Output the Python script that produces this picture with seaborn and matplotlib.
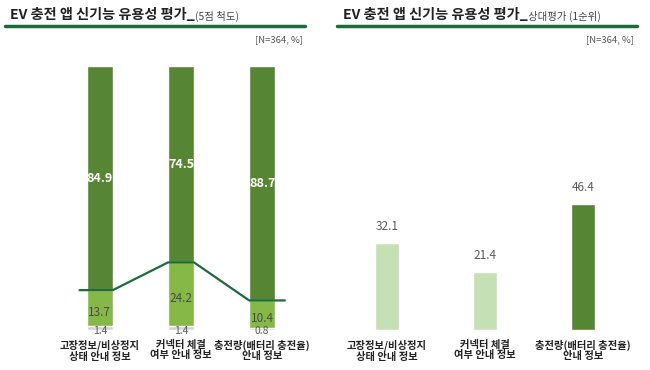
import numpy as np
import pandas as pd
import seaborn as sns
import matplotlib.pyplot as plt
from matplotlib.lines import Line2D

sns.set_theme(style="white")
plt.rcParams['font.family'] = ['Noto Sans CJK KR', 'DejaVu Sans']

# data
items = ['고장정보/비상정지\n상태 안내 정보', '커넥터 체결\n여부 안내 정보', '충전량(배터리 충전율)\n안내 정보']
low = [1.4, 1.4, 0.8]        # 5점 척도 하위
mid = [13.7, 24.2, 10.4]     # 보통
high = [84.9, 74.5, 88.7]    # 상위
rank1 = [32.1, 21.4, 46.4]   # 상대평가 1순위

dark = '#568534'
light = '#86b848'
pale = '#c5e0b4'
grey = '#d4d4d4'
line_c = '#1d6b3b'

df = pd.DataFrame({'item': items, 'low': low, 'mid': mid, 'high': high, 'rank1': rank1})
df['lm'] = df['low'] + df['mid']
df['total'] = df['lm'] + df['high']

fig = plt.figure(figsize=(6.5, 3.7), dpi=100)
ax1 = fig.add_axes([39/650, 40/370, 284/650, 264/370])
ax2 = fig.add_axes([328/650, 40/370, 314/650, 272/370])

# left: stacked bars
w = 0.32
sns.barplot(data=df, x='item', y='total', color=dark, width=w, ax=ax1, saturation=1)
sns.barplot(data=df, x='item', y='lm', color=light, width=w, ax=ax1, saturation=1)
sns.barplot(data=df, x='item', y='low', color=grey, width=w, ax=ax1, saturation=1)

xs, ys = [], []
for i, v in enumerate(df['lm']):
    l = -0.25 if i == 0 else i - w / 2
    r = i + 0.28 if i == len(df) - 1 else i + w / 2
    xs += [l, r]
    ys += [v, v]
ax1.plot(xs, ys, color=line_c, lw=1.6)

for i, row in df.iterrows():
    ax1.text(i, row['lm'] + row['high'] / 2, f"{row['high']:.1f}", ha='center', va='center',
             color='white', fontsize=9, fontweight='bold')
    ax1.text(i, row['low'] + row['mid'] / 2 - 1.5, f"{row['mid']:.1f}", ha='center', va='center',
             color='#4a4a4a', fontsize=8.5)
    ax1.text(i, -0.5, f"{row['low']:.1f}", ha='center', va='center', color='#5a5a5a', fontsize=7.5)

ax1.set_xlim(-0.75, 2.75)
ax1.set_ylim(0, 100)

# right: 1순위
sns.barplot(data=df, x='item', y='rank1', hue='item', palette=[pale, pale, dark], width=0.25,
            ax=ax2, saturation=1, legend=False)
for i, v in enumerate(df['rank1']):
    ax2.text(i, v + 3.5, f"{v:.1f}", ha='center', va='bottom', color='#595959', fontsize=8.5)
ax2.set_xlim(-0.6, 2.6)
ax2.set_ylim(0, 100)

for ax in (ax1, ax2):
    sns.despine(ax=ax, left=True, bottom=True)
    ax.set_yticks([])
    ax.set_xlabel('')
    ax.set_ylabel('')
    ax.tick_params(axis='x', length=0, pad=7)
    for t in ax.get_xticklabels():
        t.set_fontsize(7.4)
        t.set_fontweight('bold')
        t.set_color('#222222')
        t.set_linespacing(1.05)

# titles
title = 'EV 충전 앱 신기능 유용성 평가_'
t1 = fig.text(10/650, 1 - 15/370, title, fontsize=10.2, fontweight='bold', color='#222222', va='center')
t2 = fig.text(343/650, 1 - 15/370, title, fontsize=10.2, fontweight='bold', color='#222222', va='center')
fig.canvas.draw()
r = fig.canvas.get_renderer()
e1 = t1.get_window_extent(r)
e2 = t2.get_window_extent(r)
fig.text(e1.x1 / 650, 1 - 16/370, '(5점 척도)', fontsize=7.5, color='#444444', va='center')
fig.text(e2.x1 / 650, 1 - 16/370, '상대평가 (1순위)', fontsize=7.5, color='#444444', va='center')

fig.add_artist(Line2D([5/650, 305/650], [1 - 26/370, 1 - 26/370], color=line_c, lw=2.5))
fig.add_artist(Line2D([337/650, 637/650], [1 - 26/370, 1 - 26/370], color=line_c, lw=2.5))
fig.text(303/650, 1 - 40/370, '[N=364, %]', fontsize=6.8, color='#555555', ha='right', va='center')
fig.text(634/650, 1 - 40/370, '[N=364, %]', fontsize=6.8, color='#555555', ha='right', va='center')

fig.savefig('out.png', dpi=100)
